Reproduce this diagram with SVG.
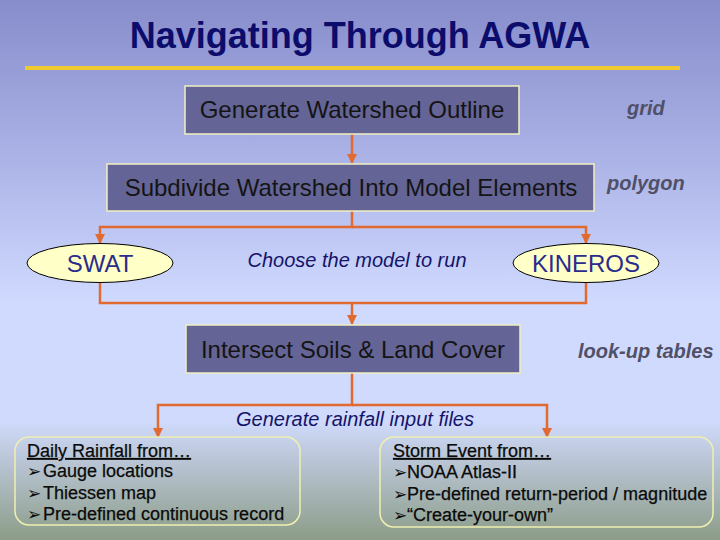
<svg xmlns="http://www.w3.org/2000/svg" width="720" height="540" viewBox="0 0 720 540">
<defs>
<linearGradient id="bg" x1="0" y1="0" x2="0" y2="1">
<stop offset="0" stop-color="#878dcb"/>
<stop offset="0.28" stop-color="#a9b1e5"/>
<stop offset="0.56" stop-color="#d0daff"/>
<stop offset="0.78" stop-color="#d0dafc"/>
<stop offset="1" stop-color="#8c9c88"/>
</linearGradient>
<marker id="arr" viewBox="0 0 10 10" refX="9" refY="5" markerWidth="4" markerHeight="4" orient="auto" markerUnits="strokeWidth">
<path d="M0,0 L10,5 L0,10 z" fill="#e06a30"/>
</marker>
<style>
.box{fill:#646496;stroke:#f0f0c0;stroke-width:1.5}
.bt{font-family:"Liberation Sans",Arial,sans-serif;font-size:24px;fill:#141414;text-anchor:middle}
.ell{fill:#ffffc8;stroke:#000;stroke-width:1}
.et{font-family:"Liberation Sans",Arial,sans-serif;font-size:24px;fill:#2b2b8c;text-anchor:middle}
.side{font-family:"Liberation Sans",Arial,sans-serif;font-size:20px;font-weight:bold;font-style:italic;fill:#505068}
.note{font-family:"Liberation Sans",Arial,sans-serif;font-size:20px;font-style:italic;fill:#14146a;text-anchor:middle}
.rbox{fill:none;stroke:#f0f0b0;stroke-width:1.5}
.lt{font-family:"Liberation Sans",Arial,sans-serif;font-size:18px;fill:#0a0a0a;stroke:#0a0a0a;stroke-width:0.25}
.bl{font-family:"DejaVu Sans",sans-serif;font-size:17px;stroke:none}
.con{fill:none;stroke:#e06a30;stroke-width:2.5}
</style>
</defs>
<rect x="0" y="0" width="720" height="540" fill="url(#bg)"/>
<text x="360" y="48" font-family="'Liberation Sans',Arial,sans-serif" font-size="36" font-weight="bold" fill="#0c0c6c" text-anchor="middle">Navigating Through AGWA</text>
<rect x="25" y="66" width="655" height="4" fill="#f0c830"/>

<g id="connectors">
<path class="con" d="M352,134 V163" marker-end="url(#arr)"/>
<path class="con" d="M352,211 V227 H100 V243" marker-end="url(#arr)"/>
<path class="con" d="M352,227 H586 V243" marker-end="url(#arr)"/>
<path class="con" d="M100,282 V303 H586 V282"/>
<path class="con" d="M352,303 V324" marker-end="url(#arr)"/>
<path class="con" d="M352,373 V405 H158 V437" marker-end="url(#arr)"/>
<path class="con" d="M352,405 H547 V437" marker-end="url(#arr)"/>
</g>

<g id="n-outline">
<rect class="box" x="185" y="86" width="334" height="48"/>
<text class="bt" x="352" y="118">Generate Watershed Outline</text>
</g>
<g id="n-grid"><text class="side" x="627" y="115">grid</text></g>

<g id="n-subdivide">
<rect class="box" x="107" y="164" width="487" height="47"/>
<text class="bt" x="351" y="196">Subdivide Watershed Into Model Elements</text>
</g>
<g id="n-polygon"><text class="side" x="607" y="190">polygon</text></g>

<g id="n-swat">
<ellipse class="ell" cx="100" cy="263" rx="73" ry="19.5"/>
<text class="et" x="100" y="272">SWAT</text>
</g>
<g id="n-choose"><text class="note" x="357" y="267">Choose the model to run</text></g>
<g id="n-kineros">
<ellipse class="ell" cx="586" cy="263" rx="73" ry="19.5"/>
<text class="et" x="586" y="272">KINEROS</text>
</g>

<g id="n-intersect">
<rect class="box" x="186" y="325" width="334" height="48"/>
<text class="bt" x="353" y="358">Intersect Soils &amp; Land Cover</text>
</g>
<g id="n-lookup"><text class="side" x="578" y="358">look-up tables</text></g>

<g id="n-rainfall"><text class="note" x="355" y="426">Generate rainfall input files</text></g>

<g id="n-daily">
<rect class="rbox" x="15" y="437" width="285" height="88" rx="14"/>
<text class="lt" x="27" y="457" text-decoration="underline">Daily Rainfall from…</text>
<text class="lt" x="27" y="477"><tspan class="bl">➢</tspan><tspan x="43">Gauge locations</tspan></text>
<text class="lt" x="27" y="499"><tspan class="bl">➢</tspan><tspan x="43">Thiessen map</tspan></text>
<text class="lt" x="27" y="520"><tspan class="bl">➢</tspan><tspan x="43">Pre-defined continuous record</tspan></text>
</g>

<g id="n-storm">
<rect class="rbox" x="380" y="437" width="333" height="90" rx="14"/>
<text class="lt" x="393" y="457" text-decoration="underline">Storm Event from…</text>
<text class="lt" x="393" y="478"><tspan class="bl">➢</tspan><tspan x="407">NOAA Atlas-II</tspan></text>
<text class="lt" x="393" y="500"><tspan class="bl">➢</tspan><tspan x="407">Pre-defined return-period / magnitude</tspan></text>
<text class="lt" x="393" y="521"><tspan class="bl">➢</tspan><tspan x="407">“Create-your-own”</tspan></text>
</g>
</svg>
